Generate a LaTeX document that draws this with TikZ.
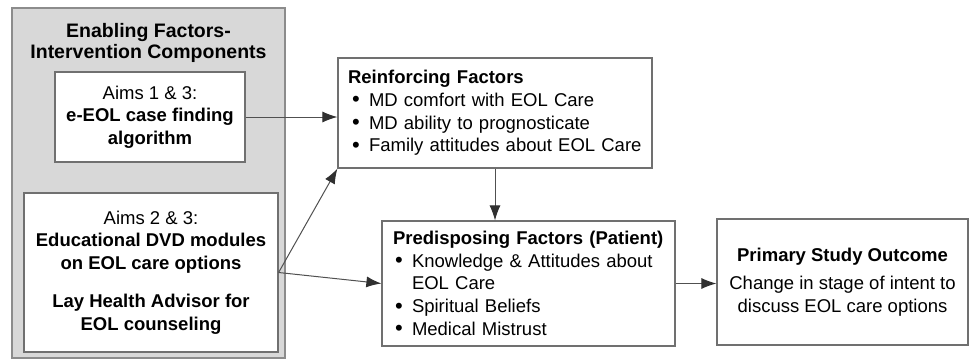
\documentclass[tikz,border=0pt]{standalone}
\usepackage{fontspec}
\setmainfont{Liberation Sans}
\usetikzlibrary{arrows.meta}
\definecolor{boxline}{HTML}{707070}
\definecolor{arrline}{HTML}{505050}
\definecolor{tipcol}{HTML}{303030}
\definecolor{outerfill}{HTML}{D8D8D8}
\definecolor{outerline}{HTML}{8C8C8C}
\tikzset{
  box/.style={draw=boxline, line width=1.2pt, fill=white, inner sep=0pt, align=center,
    font=\fontsize{18.5}{22.5}\selectfont},
  listbox/.style={draw=boxline, line width=1.2pt, fill=white, inner ysep=0pt, align=left,
    font=\fontsize{18.5}{22.6}\selectfont},
  outerbox/.style={draw=outerline, line width=1.5pt, fill=outerfill, inner sep=0pt},
  arr/.style={draw=arrline, line width=1pt, -{Latex[length=15pt,width=11pt,color=tipcol]}},
}
\newcommand{\bul}[1]{\hspace*{#1}\makebox[17pt][l]{\raisebox{-0.5pt}{\fontsize{22}{22}\selectfont\textbullet}}}
\begin{document}
\begin{tikzpicture}[x=1pt,y=-1pt]
\useasboundingbox (0,0) rectangle (969,362);
% outer gray container
\node[outerbox, minimum width=273pt, minimum height=350pt] (outer) at (148.5,183) {};
\node[font=\fontsize{19.5}{21.5}\selectfont\bfseries, align=center, inner sep=0pt] (title) at (148.5,43) {Enabling Factors-\\Intervention Components};
% aim boxes
\node[box, minimum width=190pt, minimum height=90pt] (box1) at (150,117)
  {Aims 1 \& 3:\\\textbf{e-EOL case finding}\\\textbf{algorithm}};
\node[box, minimum width=254pt, minimum height=159pt] (box2) at (151,272.5)
  {Aims 2 \& 3:\\\textbf{Educational DVD modules}\\\textbf{on EOL care options}\\[16pt]\textbf{Lay Health Advisor for}\\\textbf{EOL counseling}};
% reinforcing
\node[listbox, inner xsep=10pt, text width=294pt, minimum height=110pt] (reinf) at (495,113)
  {\textbf{Reinforcing Factors}\\
   \bul{4pt}MD comfort with EOL Care\\
   \bul{4pt}MD ability to prognosticate\\
   \bul{4pt}Family attitudes about EOL Care};
% predisposing
\node[listbox, inner xsep=11pt, text width=271pt, minimum height=125pt] (pred) at (528.5,283.5)
  {\textbf{Predisposing Factors (Patient)}\\
   \bul{2pt}Knowledge \& Attitudes about\\
   \hspace*{19pt}EOL Care\\
   \bul{2pt}Spiritual Beliefs\\
   \bul{2pt}Medical Mistrust};
% primary outcome
\node[box, minimum width=251pt, minimum height=126pt] (prim) at (842.5,282)
  {\textbf{Primary Study Outcome}\\[6pt]Change in stage of intent to\\discuss EOL care options};
% connectors
\draw[arr] (box1.east) -- (box1.east -| reinf.west);
\draw[arr] (box2.east) -- (reinf.south west);
\draw[arr] (box2.east) -- (pred.west);
\draw[arr] (reinf.south) -- (reinf.south |- pred.north);
\draw[arr] (pred.east) -- (pred.east -| prim.west);
\end{tikzpicture}
\end{document}
